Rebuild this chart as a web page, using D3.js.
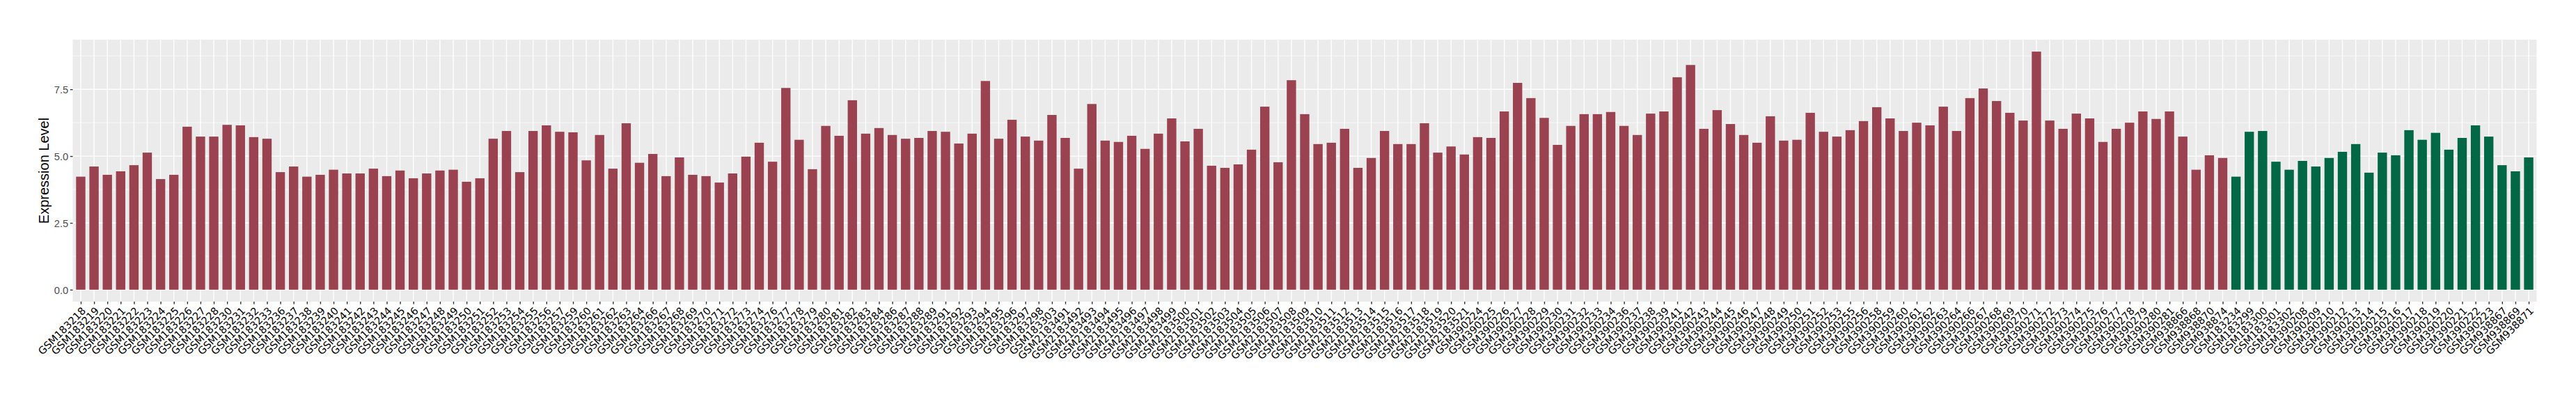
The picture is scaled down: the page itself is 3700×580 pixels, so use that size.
<!DOCTYPE html>
<html>
<head>
<meta charset="utf-8">
<script src="https://cdn.jsdelivr.net/npm/d3@7"></script>
<style>
  html, body { margin: 0; padding: 0; background: #ffffff; }
  svg { display: block; }
</style>
</head>
<body>
<svg id="chart" width="3700" height="580"></svg>
<script>
// ---------------- data ----------------
const tumorSamples = [
  "GSM183218","GSM183219","GSM183220","GSM183221","GSM183222","GSM183223","GSM183224","GSM183225","GSM183226","GSM183227",
  "GSM183228","GSM183230","GSM183231","GSM183232","GSM183233","GSM183236","GSM183237","GSM183238","GSM183239","GSM183240",
  "GSM183241","GSM183242","GSM183243","GSM183244","GSM183245","GSM183246","GSM183247","GSM183248","GSM183249","GSM183250",
  "GSM183251","GSM183252","GSM183253","GSM183254","GSM183255","GSM183256","GSM183257","GSM183259","GSM183260","GSM183261",
  "GSM183262","GSM183263","GSM183264","GSM183266","GSM183267","GSM183268","GSM183269","GSM183270","GSM183271","GSM183272",
  "GSM183273","GSM183274","GSM183276","GSM183277","GSM183278","GSM183279","GSM183280","GSM183281","GSM183282","GSM183283",
  "GSM183284","GSM183286","GSM183287","GSM183288","GSM183289","GSM183291","GSM183292","GSM183293","GSM183294","GSM183295",
  "GSM183296","GSM183297","GSM183298","GSM183303","GSM2183491","GSM2183492","GSM2183493","GSM2183494","GSM2183495","GSM2183496",
  "GSM2183497","GSM2183498","GSM2183499","GSM2183500","GSM2183501","GSM2183502","GSM2183503","GSM2183504","GSM2183505","GSM2183506",
  "GSM2183507","GSM2183508","GSM2183509","GSM2183510","GSM2183511","GSM2183512","GSM2183513","GSM2183514","GSM2183515","GSM2183516",
  "GSM2183517","GSM2183518","GSM2183519","GSM2183520","GSM2183521","GSM390224","GSM390225","GSM390226","GSM390227","GSM390228",
  "GSM390229","GSM390230","GSM390231","GSM390232","GSM390233","GSM390234","GSM390236","GSM390237","GSM390238","GSM390239",
  "GSM390241","GSM390242","GSM390243","GSM390244","GSM390245","GSM390246","GSM390247","GSM390248","GSM390249","GSM390250",
  "GSM390251","GSM390252","GSM390253","GSM390255","GSM390256","GSM390258","GSM390259","GSM390260","GSM390261","GSM390262",
  "GSM390263","GSM390264","GSM390266","GSM390267","GSM390268","GSM390269","GSM390270","GSM390271","GSM390272","GSM390273",
  "GSM390274","GSM390275","GSM390276","GSM390277","GSM390278","GSM390279","GSM390280","GSM390281","GSM938866","GSM938868",
  "GSM938870","GSM938874"
];
const tumorValues = [
  4.23,4.61,4.30,4.43,4.66,5.13,4.14,4.30,6.10,5.73,
  5.73,6.17,6.15,5.71,5.65,4.40,4.61,4.23,4.30,4.49,
  4.35,4.35,4.53,4.25,4.46,4.17,4.35,4.46,4.49,4.04,
  4.17,5.65,5.94,4.40,5.94,6.15,5.91,5.89,4.84,5.79,
  4.53,6.23,4.75,5.08,4.25,4.95,4.30,4.25,4.01,4.35,
  4.98,5.50,4.79,7.55,5.61,4.51,6.13,5.76,7.09,5.84,
  6.05,5.79,5.65,5.68,5.94,5.91,5.47,5.84,7.81,5.65,
  6.36,5.73,5.58,6.54,5.68,4.53,6.95,5.58,5.53,5.76,
  5.27,5.84,6.41,5.55,6.02,4.64,4.56,4.69,5.24,6.85,
  4.77,7.84,6.57,5.45,5.50,6.02,4.56,4.93,5.94,5.45,
  5.45,6.23,5.13,5.36,5.06,5.71,5.68,6.67,7.74,7.17,
  6.43,5.42,6.13,6.57,6.57,6.65,6.13,5.79,6.59,6.67,
  7.95,8.41,6.02,6.72,6.20,5.79,5.50,6.49,5.58,5.61,
  6.62,5.91,5.73,5.97,6.31,6.83,6.41,5.94,6.25,6.15,
  6.85,5.94,7.17,7.53,7.06,6.62,6.33,8.91,6.33,6.02,
  6.59,6.41,5.53,6.02,6.25,6.67,6.39,6.67,5.73,4.49,
  5.03,4.93
];
const normalSamples = [
  "GSM183234","GSM183299","GSM183300","GSM183301","GSM183302","GSM390208","GSM390209","GSM390210","GSM390212","GSM390213",
  "GSM390214","GSM390215","GSM390216","GSM390217","GSM390218","GSM390219","GSM390220","GSM390221","GSM390222","GSM390223",
  "GSM938867","GSM938869","GSM938871"
];
const normalValues = [
  4.23,5.91,5.94,4.79,4.49,4.82,4.61,4.93,5.16,5.45,
  4.38,5.13,5.03,5.97,5.61,5.87,5.24,5.68,6.15,5.73,
  4.66,4.43,4.95
];
const groupNames = ["Tumor", "Normal"];
const groupColors = ["#9A4250", "#026745"];
const yTickValues = [0, 2.5, 5, 7.5];
const yMinorValues = [1.25, 3.75, 6.25, 8.75];
const yTitle = "Expression Level";

// ---------------- layout ----------------
const panel = { left: 104.5, right: 3643.5, top: 57, bottom: 433 };
const tickLen = 3.67, tickPad = 2.6;

const samples = tumorSamples.concat(normalSamples);
const data = tumorSamples.map((s, i) => ({ sample: s, value: tumorValues[i], group: groupNames[0] }))
  .concat(normalSamples.map((s, i) => ({ sample: s, value: normalValues[i], group: groupNames[1] })));

const maxV = d3.max(data, d => d.value);
const y = d3.scaleLinear().domain([-0.05 * maxV, 1.05 * maxV]).range([panel.bottom, panel.top]);
const x = d3.scalePoint().domain(samples).range([panel.left, panel.right]).padding(0.6);
const color = d3.scaleOrdinal().domain(groupNames).range(groupColors);
const barW = x.step() * 0.7;

const svg = d3.select("#chart");
svg.append("rect").attr("width", 3700).attr("height", 580).attr("fill", "#ffffff");

// panel background
svg.append("rect")
  .attr("x", panel.left).attr("y", panel.top)
  .attr("width", panel.right - panel.left).attr("height", panel.bottom - panel.top)
  .attr("fill", "#EBEBEB");

const grid = svg.append("g");
grid.selectAll("line.ymin").data(yMinorValues.filter(v => y(v) >= panel.top)).join("line")
  .attr("x1", panel.left).attr("x2", panel.right)
  .attr("y1", d => y(d)).attr("y2", d => y(d))
  .attr("stroke", "#ffffff").attr("stroke-width", 0.7);
grid.selectAll("line.ymaj").data(yTickValues).join("line")
  .attr("x1", panel.left).attr("x2", panel.right)
  .attr("y1", d => y(d)).attr("y2", d => y(d))
  .attr("stroke", "#ffffff").attr("stroke-width", 1.4);
grid.selectAll("line.xmaj").data(samples).join("line")
  .attr("x1", d => x(d)).attr("x2", d => x(d))
  .attr("y1", panel.top).attr("y2", panel.bottom)
  .attr("stroke", "#ffffff").attr("stroke-width", 1.4);

// bars
svg.append("g").selectAll("rect").data(data).join("rect")
  .attr("x", d => x(d.sample) - barW / 2)
  .attr("width", barW)
  .attr("y", d => y(d.value))
  .attr("height", d => y(0) - y(d.value))
  .attr("fill", d => color(d.group));

// y axis
const yAxis = svg.append("g")
  .attr("transform", `translate(${panel.left},0)`)
  .call(d3.axisLeft(y).tickValues(yTickValues).tickFormat(d3.format(".1f")).tickSize(tickLen).tickPadding(tickPad));
yAxis.select(".domain").remove();
yAxis.selectAll(".tick line").attr("stroke", "#333333").attr("stroke-width", 1.4);
yAxis.selectAll(".tick text")
  .attr("fill", "#4D4D4D")
  .attr("dy", "0.35em")
  .style("font-family", "'Liberation Sans', Arial, sans-serif")
  .style("font-size", "14.67px");

// x axis
const xAxis = svg.append("g")
  .attr("transform", `translate(0,${panel.bottom})`)
  .call(d3.axisBottom(x).tickSize(tickLen));
xAxis.select(".domain").remove();
xAxis.selectAll(".tick line").attr("stroke", "#333333").attr("stroke-width", 1.4);
xAxis.selectAll(".tick text")
  .attr("x", null).attr("y", null).attr("dy", null)
  .attr("text-anchor", "end")
  .attr("transform", `translate(7.6,${tickLen + 2.93 + 7.6}) rotate(-45)`)
  .attr("fill", "#000000")
  .style("font-family", "'DejaVu Sans', sans-serif")
  .style("font-size", "14.67px");

// y title
svg.append("text")
  .attr("transform", `translate(70,${(panel.top + panel.bottom) / 2}) rotate(-90)`)
  .attr("text-anchor", "middle")
  .attr("fill", "#000000")
  .style("font-family", "'Liberation Sans', Arial, sans-serif")
  .style("font-size", "20px")
  .text(yTitle);
</script>
</body>
</html>
